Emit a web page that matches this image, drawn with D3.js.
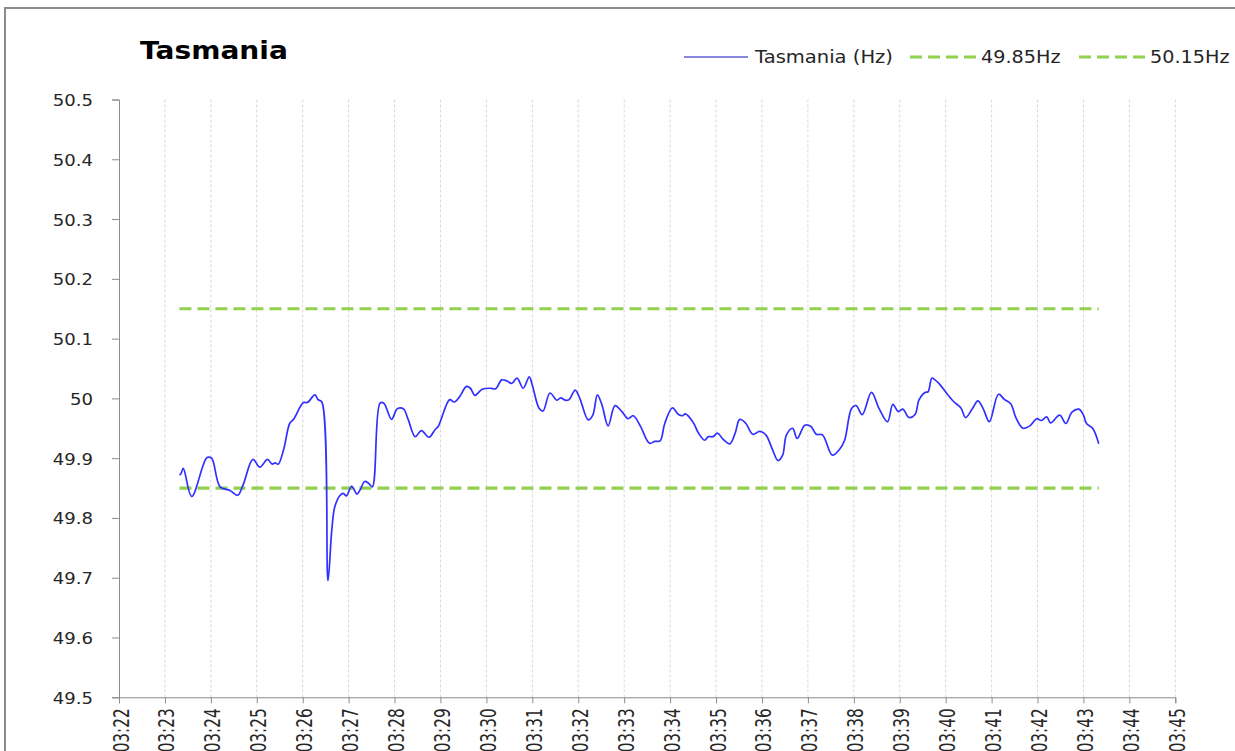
<!DOCTYPE html>
<html>
<head>
<meta charset="utf-8">
<script src="https://cdn.jsdelivr.net/npm/d3@7"></script>
<style>
  html, body { margin: 0; padding: 0; background: #fff; overflow: hidden; }
  svg { display: block; }
</style>
</head>
<body>
<svg id="chart"></svg>
<script>
// --- data ---
const times = [
  "03:23:19","03:23:21","03:23:24","03:23:35","03:23:55","03:24:01","03:24:12","03:24:25","03:24:35","03:24:42",
  "03:24:55","03:25:04","03:25:14","03:25:20","03:25:24","03:25:28","03:25:35","03:25:43","03:25:48","03:26:01",
  "03:26:06","03:26:16","03:26:20","03:26:25","03:26:33","03:26:38","03:26:42","03:26:49","03:26:53","03:26:57",
  "03:27:04","03:27:11","03:27:15","03:27:21","03:27:26","03:27:31","03:27:41","03:27:46","03:27:56","03:28:03",
  "03:28:07","03:28:12","03:28:18","03:28:27","03:28:35","03:28:45","03:28:53","03:28:57","03:29:12","03:29:18",
  "03:29:25","03:29:34","03:29:39","03:29:45","03:29:54","03:30:05","03:30:12","03:30:20","03:30:27","03:30:33",
  "03:30:40","03:30:48","03:30:56","03:31:00","03:31:09","03:31:14","03:31:23","03:31:32","03:31:37","03:31:43",
  "03:31:48","03:31:56","03:32:02","03:32:13","03:32:19","03:32:25","03:32:31","03:32:39","03:32:48","03:32:57",
  "03:33:05","03:33:12","03:33:21","03:33:33","03:33:40","03:33:47","03:33:53","03:34:03","03:34:11","03:34:16",
  "03:34:20","03:34:30","03:34:37","03:34:45","03:34:50","03:34:56","03:35:02","03:35:09","03:35:18","03:35:25",
  "03:35:31","03:35:39","03:35:48","03:35:57","03:36:05","03:36:13","03:36:21","03:36:27","03:36:32","03:36:40",
  "03:36:46","03:36:56","03:37:04","03:37:11","03:37:19","03:37:32","03:37:41","03:37:48","03:37:57","03:38:03",
  "03:38:11","03:38:23","03:38:33","03:38:44","03:38:51","03:38:58","03:39:04","03:39:12","03:39:20","03:39:25",
  "03:39:33","03:39:37","03:39:42","03:39:46","03:39:52","03:40:01","03:40:11","03:40:20","03:40:26","03:40:35",
  "03:40:42","03:40:49","03:40:57","03:41:09","03:41:17","03:41:25","03:41:32","03:41:41","03:41:50","03:41:59",
  "03:42:05","03:42:12","03:42:17","03:42:29","03:42:37","03:42:45","03:42:54","03:43:00","03:43:04","03:43:12",
  "03:43:20"
];
const hz = [
  49.872,49.874,49.883,49.836,49.901,49.900,49.852,49.846,49.838,49.855,
  49.898,49.885,49.898,49.890,49.892,49.890,49.914,49.958,49.965,49.993,
  49.993,50.006,49.998,49.994,49.695,49.780,49.819,49.838,49.841,49.837,
  49.853,49.840,49.847,49.861,49.858,49.852,49.992,49.992,49.965,49.982,
  49.984,49.982,49.964,49.936,49.946,49.935,49.948,49.953,49.998,49.994,
  50.003,50.020,50.017,50.005,50.015,50.017,50.016,50.031,50.029,50.025,
  50.034,50.017,50.036,50.022,49.983,49.979,50.009,49.997,50.001,49.997,
  49.998,50.014,50.000,49.964,49.972,50.006,49.989,49.954,49.988,49.978,
  49.966,49.971,49.954,49.925,49.928,49.929,49.958,49.984,49.973,49.971,
  49.974,49.960,49.942,49.930,49.936,49.936,49.942,49.932,49.924,49.942,
  49.965,49.958,49.940,49.945,49.939,49.917,49.896,49.905,49.939,49.950,
  49.933,49.955,49.953,49.940,49.939,49.905,49.914,49.930,49.983,49.988,
  49.973,50.010,49.983,49.961,49.990,49.978,49.982,49.968,49.973,49.997,
  50.010,50.011,50.034,50.031,50.024,50.009,49.994,49.984,49.968,49.983,
  49.996,49.983,49.961,50.007,49.998,49.991,49.967,49.950,49.954,49.966,
  49.963,49.969,49.959,49.972,49.958,49.977,49.982,49.972,49.958,49.950,
  49.924
];
const limits = [49.85, 50.15];
const limitNames = ["49.85Hz", "50.15Hz"];
const seriesName = "Tasmania (Hz)";
const title = "Tasmania";
const yTicks = [49.5, 49.6, 49.7, 49.8, 49.9, 50, 50.1, 50.2, 50.3, 50.4, 50.5];
const xStart = "03:22", xEnd = "03:45";

// --- layout ---
const W = 1235, H = 751;
const SX = 1.13; // the source picture is stretched sideways a little
const FONT = "'DejaVu Sans', sans-serif";
const BLUE = "#3030ff", GREEN = "#92d050", AXIS = "#8c8c8c", TEXT = "#262626";

const parse = d3.timeParse("%H:%M:%S");
const parseHM = d3.timeParse("%H:%M");
const data = times.map((t, i) => ({ t: parse(t), v: hz[i] }));

const x = d3.scaleTime().domain([parseHM(xStart), parseHM(xEnd)]).range([119, 1175.3]);
const y = d3.scaleLinear().domain([49.5, 50.5]).range([697.3, 99.5]);

const svg = d3.select("#chart").attr("width", W).attr("height", H);

// chart frame
svg.append("rect").attr("x", 5).attr("y", 8).attr("width", 1260).attr("height", 800)
  .attr("fill", "#fff").attr("stroke", AXIS).attr("stroke-width", 2);

// vertical minute gridlines
const minutes = d3.timeMinute.range(parseHM(xStart), d3.timeMinute.offset(parseHM(xEnd), 1));
svg.append("g").selectAll("line").data(minutes.slice(1)).join("line")
  .attr("x1", d => x(d)).attr("x2", d => x(d)).attr("y1", y(50.5)).attr("y2", y(49.5))
  .attr("stroke", "#d9d9d9").attr("stroke-width", 1).attr("stroke-dasharray", "3,2");

// y axis
const yAxis = svg.append("g").attr("transform", `translate(${x.range()[0]},0)`)
  .call(d3.axisLeft(y).tickValues(yTicks).tickSize(7).tickPadding(19).tickFormat(d => String(+d.toFixed(1))));
yAxis.select(".domain").attr("stroke", AXIS);
yAxis.selectAll(".tick line").attr("stroke", AXIS);
yAxis.selectAll(".tick text")
  .attr("x", null).attr("dy", null)
  .attr("transform", `translate(-26,6) scale(${SX},1)`)
  .attr("fill", TEXT).style("font", `16px ${FONT}`);

// x axis
const xAxis = svg.append("g").attr("transform", `translate(0,${y.range()[0]})`)
  .call(d3.axisBottom(x).tickValues(minutes).tickSize(6).tickFormat(d3.timeFormat("%H:%M")));
xAxis.select(".domain").attr("stroke", AXIS);
xAxis.selectAll(".tick line").attr("stroke", AXIS);
xAxis.selectAll(".tick text")
  .attr("y", null).attr("dy", null)
  .attr("text-anchor", "end")
  .attr("transform", `translate(9,11) scale(1.2,1) rotate(-90)`)
  .attr("fill", TEXT).style("font", `17px 'DejaVu Sans Condensed', ${FONT}`);

// limit lines
const t0 = data[0].t, t1 = data[data.length - 1].t;
svg.append("g").selectAll("line").data(limits).join("line")
  .attr("x1", x(t0)).attr("x2", x(t1)).attr("y1", d => y(d)).attr("y2", d => y(d))
  .attr("stroke", GREEN).attr("stroke-width", 3.2).attr("stroke-dasharray", "12,6");

// frequency line
const line = d3.line().x(d => x(d.t)).y(d => y(d.v)).curve(d3.curveCatmullRom.alpha(0.5));
svg.append("path").datum(data).attr("d", line)
  .attr("fill", "none").attr("stroke", BLUE).attr("stroke-width", 1.7);

// title
svg.append("text").attr("transform", `translate(140,59) scale(1.17,1)`)
  .attr("fill", "#000").style("font", `bold 24px ${FONT}`).text(title);

// legend
const lg = svg.append("g");
lg.append("line").attr("x1", 684).attr("x2", 748).attr("y1", 57).attr("y2", 57)
  .attr("stroke", "#1010c0").attr("stroke-width", 1.2);
lg.append("text").attr("transform", `translate(755,63) scale(1.15,1)`)
  .attr("fill", TEXT).style("font", `17px ${FONT}`).text(seriesName);
const legendX = [910, 1079];
limitNames.forEach((name, i) => {
  lg.append("line").attr("x1", legendX[i]).attr("x2", legendX[i] + 66).attr("y1", 57).attr("y2", 57)
    .attr("stroke", GREEN).attr("stroke-width", 3.2).attr("stroke-dasharray", "12,6");
  lg.append("text").attr("transform", `translate(${legendX[i] + 71},63) scale(${SX},1)`)
    .attr("fill", TEXT).style("font", `17px ${FONT}`).text(name);
});
</script>
</body>
</html>
